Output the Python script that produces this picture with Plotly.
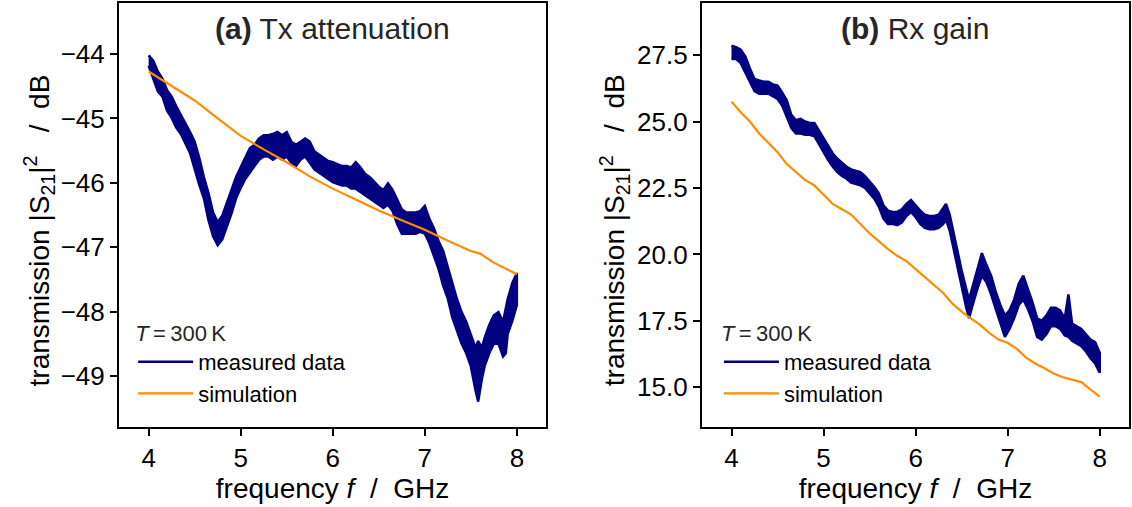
import plotly.graph_objects as go

# ---------------- data ----------------
# (a) Tx attenuation: measured data drawn as a noisy band (lower / upper envelope)
tx_meas_f = [4.00, 4.05, 4.10, 4.15, 4.20, 4.25, 4.30, 4.35, 4.40, 4.45, 4.50, 4.55, 4.60, 4.65,
             4.70, 4.75, 4.80, 4.85, 4.90, 4.95, 5.00, 5.05, 5.10, 5.15, 5.20, 5.25, 5.30, 5.35,
             5.40, 5.45, 5.50, 5.55, 5.60, 5.65, 5.70, 5.75, 5.80, 5.85, 5.90, 5.95, 6.00, 6.05,
             6.10, 6.15, 6.20, 6.25, 6.30, 6.35, 6.40, 6.45, 6.50, 6.55, 6.60, 6.65, 6.70, 6.75,
             6.80, 6.85, 6.90, 6.95, 7.00, 7.05, 7.10, 7.15, 7.20, 7.25, 7.30, 7.35, 7.40, 7.45,
             7.50, 7.55, 7.58, 7.62, 7.65, 7.70, 7.75, 7.80, 7.85, 7.88, 7.90, 7.95, 8.00]
tx_meas_lo = [-44.18, -44.38, -44.58, -44.66, -44.88, -44.99, -45.14, -45.24, -45.39, -45.54,
              -45.78, -46.03, -46.24, -46.58, -46.83, -46.97, -46.88, -46.68, -46.48, -46.24,
              -46.08, -45.94, -45.84, -45.74, -45.64, -45.59, -45.59, -45.64, -45.59, -45.64,
              -45.59, -45.69, -45.74, -45.64, -45.59, -45.69, -45.79, -45.84, -45.89, -45.94,
              -45.99, -46.02, -46.04, -46.04, -46.09, -46.09, -46.14, -46.19, -46.24, -46.29,
              -46.34, -46.39, -46.34, -46.44, -46.64, -46.79, -46.79, -46.79, -46.79, -46.76,
              -46.79, -46.94, -47.14, -47.34, -47.60, -47.80, -48.10, -48.30, -48.50, -48.65,
              -48.85, -49.22, -49.40, -49.05, -48.85, -48.65, -48.50, -48.50, -48.70, -48.65,
              -48.35, -48.15, -47.90]
tx_meas_hi = [-44.02, -44.10, -44.27, -44.38, -44.56, -44.66, -44.81, -44.94, -45.06, -45.21,
              -45.36, -45.61, -45.91, -46.16, -46.46, -46.61, -46.51, -46.31, -46.11, -45.91,
              -45.76, -45.61, -45.46, -45.41, -45.31, -45.26, -45.26, -45.24, -45.21, -45.26,
              -45.21, -45.36, -45.41, -45.36, -45.31, -45.36, -45.51, -45.56, -45.61, -45.66,
              -45.68, -45.71, -45.74, -45.74, -45.76, -45.68, -45.76, -45.86, -45.91, -45.98,
              -46.06, -46.11, -46.01, -46.11, -46.26, -46.41, -46.46, -46.46, -46.46, -46.44,
              -46.36, -46.56, -46.71, -46.91, -47.06, -47.31, -47.56, -47.81, -48.01, -48.16,
              -48.36, -48.56, -48.46, -48.56, -48.41, -48.21, -48.06, -48.01, -48.16, -47.96,
              -47.81, -47.56, -47.40]
tx_sim_f = [4.00, 4.25, 4.50, 4.75, 5.00, 5.25, 5.50, 5.75, 6.00, 6.25, 6.50, 6.75, 7.00,
            7.25, 7.50, 7.60, 7.75, 8.00]
tx_sim = [-44.27, -44.50, -44.72, -45.00, -45.27, -45.48, -45.68, -45.90, -46.09, -46.26,
          -46.43, -46.58, -46.73, -46.90, -47.06, -47.10, -47.24, -47.42]

# (b) Rx gain
rx_meas_f = [4.00, 4.05, 4.10, 4.15, 4.20, 4.25, 4.30, 4.35, 4.40, 4.45, 4.50, 4.55, 4.60, 4.65,
             4.70, 4.75, 4.80, 4.85, 4.90, 4.95, 5.00, 5.05, 5.10, 5.15, 5.20, 5.25, 5.30, 5.35,
             5.40, 5.45, 5.50, 5.55, 5.60, 5.65, 5.70, 5.75, 5.80, 5.85, 5.90, 5.95, 6.00, 6.05,
             6.10, 6.15, 6.20, 6.25, 6.30, 6.33, 6.37, 6.40, 6.45, 6.50, 6.55, 6.58, 6.62, 6.67,
             6.72, 6.77, 6.82, 6.87, 6.92, 6.97, 7.02, 7.07, 7.12, 7.17, 7.22, 7.27, 7.32, 7.37,
             7.42, 7.47, 7.52, 7.57, 7.62, 7.66, 7.70, 7.75, 7.80, 7.85, 7.90, 7.95, 8.00]
rx_meas_lo = [27.35, 27.35, 27.20, 26.90, 26.50, 26.15, 26.05, 26.05, 26.05, 25.95, 25.85, 25.60,
              25.20, 24.75, 24.55, 24.55, 24.50, 24.50, 24.45, 24.15, 23.85, 23.55, 23.30, 23.10,
              22.95, 22.85, 22.70, 22.65, 22.60, 22.50, 22.30, 22.10, 21.80, 21.35, 21.15, 21.15,
              21.10, 21.20, 21.45, 21.60, 21.40, 21.15, 21.00, 20.95, 20.95, 21.00, 21.15, 21.30,
              20.90, 20.40, 19.60, 18.80, 18.00, 17.60, 18.10, 18.70, 19.20, 18.95, 18.50, 17.95,
              17.40, 16.90, 17.20, 17.60, 18.10, 18.30, 17.95, 17.50, 16.90, 16.80, 17.00, 17.30,
              17.30, 17.20, 16.95, 16.90, 16.75, 16.65, 16.55, 16.35, 16.10, 15.90, 15.55]
rx_meas_hi = [27.85, 27.80, 27.70, 27.45, 27.00, 26.60, 26.55, 26.50, 26.50, 26.40, 26.35, 26.10,
              25.80, 25.25, 25.05, 25.10, 25.00, 24.95, 24.95, 24.65, 24.35, 24.05, 23.80, 23.60,
              23.45, 23.30, 23.20, 23.15, 23.10, 22.95, 22.75, 22.55, 22.30, 21.85, 21.65, 21.60,
              21.60, 21.70, 21.90, 22.05, 21.85, 21.65, 21.50, 21.45, 21.45, 21.50, 21.75, 21.90,
              21.50, 21.00, 20.20, 19.40, 18.70, 18.30, 18.80, 19.40, 20.05, 19.60, 19.20, 18.60,
              18.10, 17.70, 17.90, 18.30, 18.90, 19.20, 18.70, 18.20, 17.60, 17.50, 17.70, 18.00,
              18.00, 17.90, 17.60, 18.50, 17.40, 17.30, 17.20, 17.00, 16.80, 16.70, 16.30]
rx_sim_f = [4.00, 4.10, 4.20, 4.30, 4.40, 4.50, 4.60, 4.70, 4.80, 4.90, 5.00, 5.10, 5.20, 5.30,
            5.40, 5.50, 5.60, 5.70, 5.80, 5.90, 6.00, 6.10, 6.20, 6.30, 6.40, 6.50, 6.60, 6.70,
            6.80, 6.90, 7.00, 7.10, 7.20, 7.30, 7.40, 7.50, 7.60, 7.70, 7.80, 7.90, 8.00]
rx_sim = [25.75, 25.35, 25.00, 24.55, 24.20, 23.85, 23.40, 23.10, 22.80, 22.60, 22.25, 21.90,
          21.70, 21.50, 21.15, 20.80, 20.50, 20.20, 19.95, 19.75, 19.45, 19.15, 18.85, 18.55,
          18.15, 17.85, 17.60, 17.35, 17.05, 16.80, 16.68, 16.45, 16.12, 15.90, 15.72, 15.52,
          15.38, 15.28, 15.20, 14.92, 14.65]

x_ticks = [4, 5, 6, 7, 8]
tx_yticks = [-49, -48, -47, -46, -45, -44]
rx_yticks = [15.0, 17.5, 20.0, 22.5, 25.0, 27.5]

NAVY = "#000080"
ORANGE = "#ff8c00"
FONT = "Liberation Sans, Arial, sans-serif"
TXT = "#262626"

fig = go.Figure()

def add_panel(xa, ya, f, lo, hi, sf, sv, legend):
    # measured data: closed band polygon between lower and upper envelope
    fig.add_trace(go.Scatter(
        x=f + f[::-1], y=hi + lo[::-1], mode="lines", fill="toself",
        fillcolor=NAVY, line=dict(color=NAVY, width=2.5),
        xaxis=xa, yaxis=ya, showlegend=False, hoverinfo="skip"))
    # legend entries
    fig.add_trace(go.Scatter(
        x=[None], y=[None], mode="lines", line=dict(color=NAVY, width=2.5),
        name="measured data", xaxis=xa, yaxis=ya, legend=legend))
    fig.add_trace(go.Scatter(
        x=sf, y=sv, mode="lines", line=dict(color=ORANGE, width=2.2),
        name="simulation", xaxis=xa, yaxis=ya, legend=legend))

add_panel("x", "y", tx_meas_f, tx_meas_lo, tx_meas_hi, tx_sim_f, tx_sim, "legend")
add_panel("x2", "y2", rx_meas_f, rx_meas_lo, rx_meas_hi, rx_sim_f, rx_sim, "legend2")

axis_common = dict(showline=True, mirror=True, linecolor="black", linewidth=2,
                   ticks="outside", ticklen=7, tickwidth=2, tickcolor="black",
                   showgrid=False, zeroline=False,
                   tickfont=dict(family=FONT, size=26, color="black"))

x_title = dict(text="frequency <i>f</i>  /  GHz", font=dict(family=FONT, size=28, color="black"),
               standoff=6)

legend_common = dict(y=0.03, xanchor="left", yanchor="bottom",
                     bgcolor="rgba(0,0,0,0)", borderwidth=0,
                     font=dict(family=FONT, size=22, color="black"),
                     title=dict(text="<i>T</i>\u2009=\u2009300\u2009K",
                                font=dict(family=FONT, size=22, color=TXT)),
                     itemwidth=55, tracegroupgap=0)

fig.update_layout(
    width=1132, height=507,
    margin=dict(l=119, r=1, t=2, b=80),
    paper_bgcolor="white", plot_bgcolor="white",
    xaxis=dict(domain=[0, 0.4229], range=[3.678, 8.318], tickvals=x_ticks,
               title=x_title, anchor="y", **axis_common),
    yaxis=dict(range=[-49.795, -43.205], tickvals=tx_yticks, anchor="x", **axis_common),
    xaxis2=dict(domain=[0.5771, 1.0], range=[3.678, 8.318], tickvals=x_ticks,
                title=x_title, anchor="y2", **axis_common),
    yaxis2=dict(range=[13.51, 29.46], tickvals=rx_yticks, tickformat=".1f", anchor="x2",
                **axis_common),
    legend=dict(x=0.014, **legend_common),
    legend2=dict(x=0.594, **legend_common),
    showlegend=True,
)

ylab = "transmission |S<sub>21</sub>|<sup>2</sup>   /  dB"
annots = [
    dict(text="<b>(a)</b> Tx attenuation", xref="x domain", yref="paper", x=0.5, y=0.939,
         xanchor="center", yanchor="middle", showarrow=False,
         font=dict(family=FONT, size=30, color=TXT)),
    dict(text="<b>(b)</b> Rx gain", xref="x2 domain", yref="paper", x=0.5, y=0.939,
         xanchor="center", yanchor="middle", showarrow=False,
         font=dict(family=FONT, size=30, color=TXT)),
    dict(text=ylab, xref="paper", yref="paper", x=-0.079, y=0.464, textangle=-90,
         xanchor="center", yanchor="middle", showarrow=False,
         font=dict(family=FONT, size=28, color="black")),
    dict(text=ylab, xref="paper", yref="paper", x=0.491, y=0.464, textangle=-90,
         xanchor="center", yanchor="middle", showarrow=False,
         font=dict(family=FONT, size=28, color="black")),
]
fig.update_layout(annotations=annots)

fig.write_html("out.html")
